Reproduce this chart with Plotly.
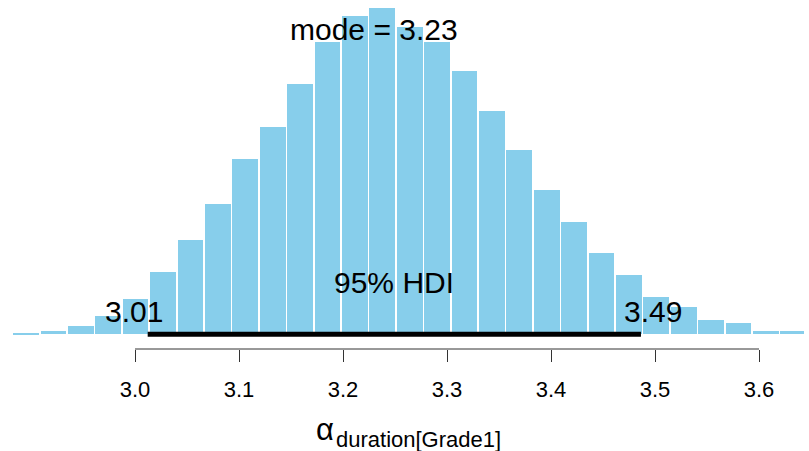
import plotly.graph_objects as go

# ---- data ----
bin_start = 2.882          # first histogram break (sample minimum)
bin_width = 0.02635        # (HDI width) / 18
sample_max = 3.6442        # last break
density = [0.013, 0.031, 0.082, 0.193, 0.363, 0.641, 0.968, 1.338, 1.802, 2.138,
           2.574, 3.006, 3.281, 3.356, 3.161, 3.006, 2.708, 2.296, 1.901, 1.482,
           1.160, 0.834, 0.607, 0.388, 0.278, 0.151, 0.120, 0.034, 0.038]
hdi_low = 3.0122
hdi_high = 3.4865
mode_value = 3.23
tick_vals = [3.0, 3.1, 3.2, 3.3, 3.4, 3.5, 3.6]
tick_text = ["3.0", "3.1", "3.2", "3.3", "3.4", "3.5", "3.6"]
param_symbol = "α"
param_subscript = "duration[Grade1]"

# ---- derived bins ----
n = len(density)
edges = [bin_start + i * bin_width for i in range(n)] + [sample_max]
centers = [(edges[i] + edges[i + 1]) / 2 for i in range(n)]
widths = [(edges[i + 1] - edges[i]) * 0.94 for i in range(n)]  # white gap between bars

FONT = "Liberation Sans, Arial, Helvetica, sans-serif"

fig = go.Figure()
fig.add_trace(go.Bar(
    x=centers, y=density, width=widths,
    marker=dict(color="#87CEEB", line=dict(width=0)),
    hoverinfo="skip", showlegend=False,
))
fig.add_trace(go.Scatter(
    x=[hdi_low, hdi_high], y=[0, 0], mode="lines",
    line=dict(color="black", width=5),
    hoverinfo="skip", showlegend=False,
))

big = dict(size=30, color="black", family=FONT)
annotations = [
    dict(x=mode_value, y=3.14, xref="x", yref="y", text=f"mode = {mode_value:.2f}",
         showarrow=False, font=big, xanchor="center", yanchor="middle"),
    dict(x=(hdi_low + hdi_high) / 2, y=0.53, xref="x", yref="y", text="95% HDI",
         showarrow=False, font=big, xanchor="center", yanchor="middle"),
    dict(x=hdi_low, y=0.23, xref="x", yref="y", text=f"{hdi_low:.2f}",
         showarrow=False, font=big, xanchor="center", yanchor="middle", xshift=-14),
    dict(x=hdi_high, y=0.23, xref="x", yref="y", text=f"{hdi_high:.2f}",
         showarrow=False, font=big, xanchor="center", yanchor="middle", xshift=12),
    dict(x=334.5 / 809, y=0, xref="paper", yref="paper", text=param_symbol,
         showarrow=False, font=dict(size=31, color="black", family=FONT),
         xanchor="right", yanchor="middle", yshift=-80, borderpad=0),
    dict(x=334.5 / 809, y=0, xref="paper", yref="paper", text=param_subscript,
         showarrow=False, font=dict(size=22, color="black", family=FONT),
         xanchor="left", yanchor="middle", yshift=-90, borderpad=0),
]

fig.update_layout(
    width=809, height=451,
    margin=dict(l=0, r=0, t=0, b=102),
    paper_bgcolor="white", plot_bgcolor="white",
    bargap=0,
    xaxis=dict(
        range=[2.87019, 3.64808], showgrid=False, zeroline=False, showline=False,
        ticks="outside", ticklen=12, tickwidth=1, tickcolor="#333333",
        tickvals=tick_vals, ticktext=tick_text,
        tickfont=dict(size=22, color="black", family=FONT),
        ticklabelstandoff=9,
    ),
    yaxis=dict(visible=False, range=[-0.1513, 3.4416]),
    annotations=annotations,
    shapes=[dict(type="line", xref="x", yref="paper",
                 x0=tick_vals[0], x1=tick_vals[-1], y0=0, y1=0,
                 line=dict(color="#333333", width=1))],
    showlegend=False,
)

fig.write_html(
    "out.html",
    config={"displayModeBar": False},
    post_script="document.body.style.margin='0';document.body.style.padding='0';",
)
